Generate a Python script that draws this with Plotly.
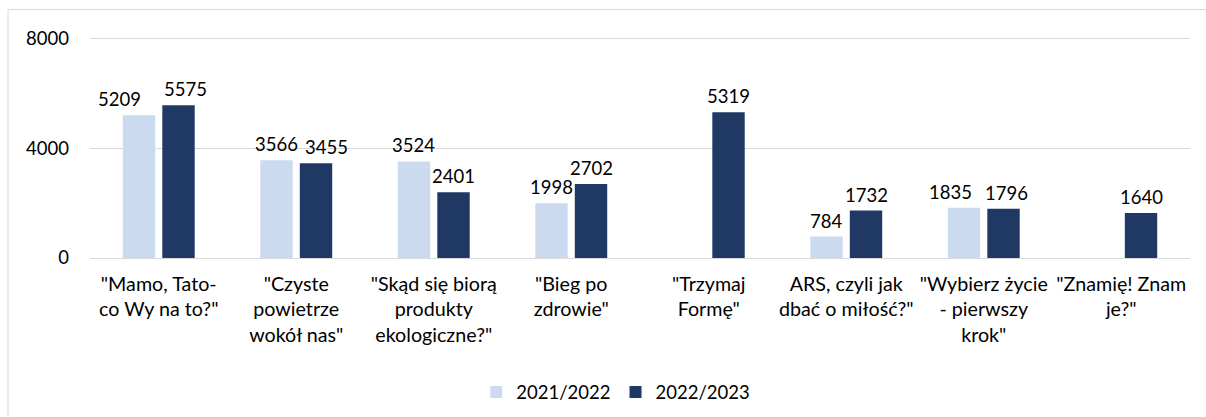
import plotly.graph_objects as go

# Programme names (line breaks follow the printed wrapping)
categories = [
    '"Mamo, Tato-<br>co Wy na to?"',
    '"Czyste<br>powietrze<br>wokół nas"',
    '"Skąd się biorą<br>produkty<br>ekologiczne?"',
    '"Bieg po<br>zdrowie"',
    '"Trzymaj<br>Formę"',
    'ARS, czyli jak<br>dbać o miłość?"',
    '"Wybierz życie<br>- pierwszy<br>krok"',
    '"Znamię! Znam<br>je?"',
]
series_names = ["2021/2022", "2022/2023"]
values_2021 = [5209, 3566, 3524, 1998, None, 784, 1835, None]
values_2022 = [5575, 3455, 2401, 2702, 5319, 1732, 1796, 1640]
y_ticks = [0, 4000, 8000]

FONT = "Lato"
COLORS = ["#CCDAF0", "#203864"]
W, H = 1206, 417
L, R, T, B = 90, 16, 36, 159
PW, PH = W - L - R, H - T - B
BARGAP, GROUPGAP = 0.425, 0.18

# horizontal nudges (px) that keep neighbouring value labels apart
label_nudge = {(0, 0): -19, (0, 1): 7, (1, 1): 10, (6, 0): -13, (6, 1): 3}

fig = go.Figure()
for name, vals, color in zip(series_names, [values_2021, values_2022], COLORS):
    fig.add_trace(go.Bar(
        x=categories,
        y=vals,
        name=name,
        marker=dict(color=color, line=dict(width=0)),
        hoverinfo="x+y",
    ))

# value labels above each bar, centred on the bar
slot = PW / len(categories) * (1 - BARGAP) / 2
annotations = []
for s, vals in enumerate([values_2021, values_2022]):
    centre = (s - 0.5) * slot
    for i, v in enumerate(vals):
        if v is None:
            continue
        annotations.append(dict(
            x=categories[i], y=v, xref="x", yref="y",
            text=str(v), showarrow=False,
            xanchor="center", yanchor="bottom",
            xshift=centre + label_nudge.get((i, s), 0), yshift=3,
            font=dict(family=FONT, size=18.5, color="#000000"),
        ))

fig.update_layout(
    width=W,
    height=H,
    margin=dict(l=L, r=R, t=T, b=B, autoexpand=False),
    paper_bgcolor="white",
    plot_bgcolor="white",
    barmode="group",
    bargap=BARGAP,
    bargroupgap=GROUPGAP,
    font=dict(family=FONT, size=18, color="#000000"),
    showlegend=True,
    legend=dict(
        orientation="h",
        x=0.478, xanchor="center",
        y=-0.52, yanchor="top",
        font=dict(family=FONT, size=18.5),
        traceorder="normal",
        itemwidth=30,
    ),
    xaxis=dict(
        tickfont=dict(family=FONT, size=19.7),
        showline=False,
        showgrid=False,
        ticks="",
        automargin=False,
        ticklabelstandoff=12,
    ),
    yaxis=dict(
        range=[0, 8100],
        tickvals=y_ticks,
        tickfont=dict(family=FONT, size=18.5),
        showgrid=True,
        gridcolor="#D9D9D9",
        gridwidth=1,
        zeroline=True,
        zerolinecolor="#D9D9D9",
        zerolinewidth=1,
        ticks="",
        automargin=False,
        ticklabelstandoff=20,
    ),
    annotations=annotations,
    shapes=[
        dict(
            type="rect", xref="paper", yref="paper",
            x0=-82 / PW, x1=1 + 30 / PW, y0=-1.0, y1=1 + 26.5 / PH,
            line=dict(color="#D9D9D9", width=1),
            fillcolor="rgba(0,0,0,0)",
            layer="below",
        )
    ],
)

fig.write_html("out.html")
